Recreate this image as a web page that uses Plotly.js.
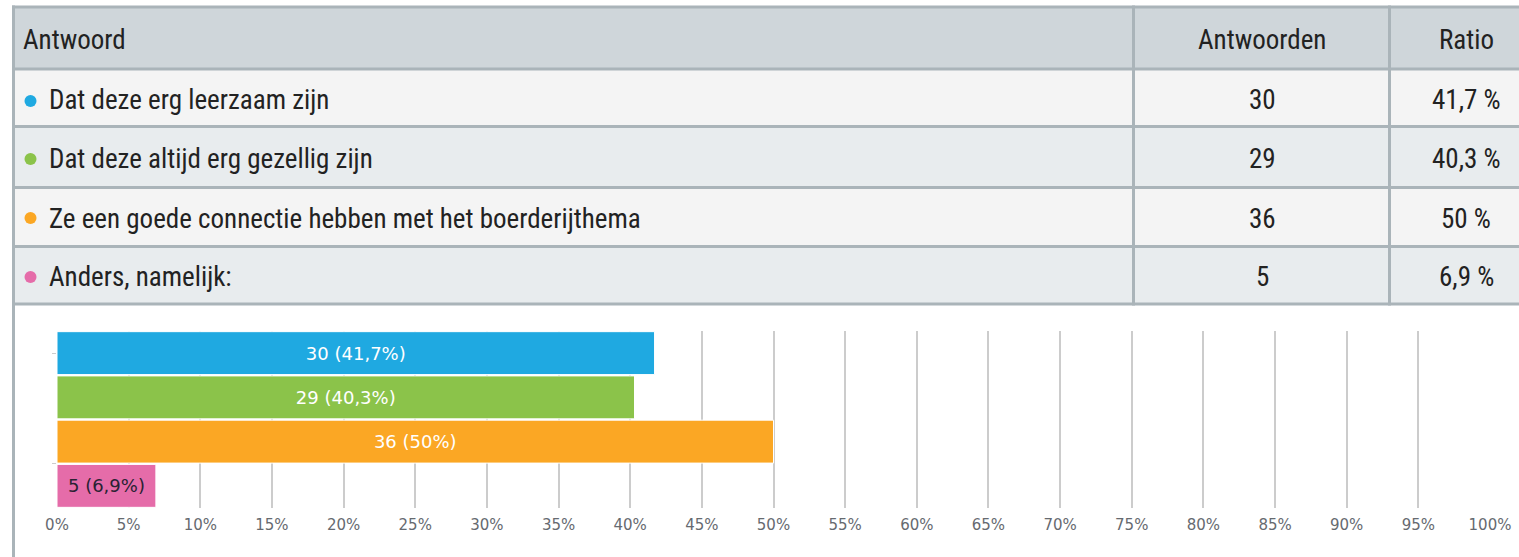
<!DOCTYPE html>
<html><head><meta charset="utf-8">
<script src="https://cdn.plot.ly/plotly-3.0.1.min.js"></script>
<style>html,body{margin:0;padding:0;background:#fff;}#chart{width:1519px;height:557px;}</style>
</head><body><div id="chart"></div>
<script>
// ---- data ----
const headers = ['Antwoord', 'Antwoorden', 'Ratio'];
const answers = [
  'Dat deze erg leerzaam zijn',
  'Dat deze altijd erg gezellig zijn',
  'Ze een goede connectie hebben met het boerderijthema',
  'Anders, namelijk:'
];
const counts = [30, 29, 36, 5];
const ratios = [41.7, 40.3, 50, 6.9];
const colors = ['#1fa9e1', '#8bc34a', '#fba724', '#e56ca9'];
const labelColors = ['#ffffff', '#ffffff', '#ffffff', '#2a2233'];
const tickVals = [0,5,10,15,20,25,30,35,40,45,50,55,60,65,70,75,80,85,90,95,100];
const tickText = tickVals.map(v => v + '%');

// ---- helpers ----
const W = 1519, H = 557;
const X = p => p / W;
const Y = p => 1 - p / H;
const fmt = v => String(v).replace('.', ',');

const border = '#aab4b9';
const headBg = '#cfd6da';
const rowBg = ['#f4f4f4', '#e8ecee', '#f4f4f4', '#e8ecee'];
const rowLines = [7, 69, 126.5, 187.5, 246.5, 304];
const tableFont = 'Liberation Sans Narrow, Roboto Condensed, Arial Narrow, sans-serif';
const tSize = 27;

const shapes = [];
const annotations = [];
// backgrounds
shapes.push({type:'rect', xref:'paper', yref:'paper', x0:X(13), x1:X(W), y0:Y(69), y1:Y(7), fillcolor:headBg, line:{width:0}, layer:'below'});
for (let i = 0; i < answers.length; i++) {
  shapes.push({type:'rect', xref:'paper', yref:'paper', x0:X(13), x1:X(W), y0:Y(rowLines[i+2]), y1:Y(rowLines[i+1]), fillcolor:rowBg[i], line:{width:0}, layer:'below'});
}
// horizontal lines
rowLines.forEach(yy => shapes.push({type:'line', xref:'paper', yref:'paper', x0:X(12), x1:X(W), y0:Y(yy), y1:Y(yy), line:{color:border, width:3}}));
// vertical lines
shapes.push({type:'line', xref:'paper', yref:'paper', x0:X(13.5), x1:X(13.5), y0:Y(5.5), y1:Y(H), line:{color:border, width:3}});
[1133.5, 1389.5].forEach(xx => shapes.push({type:'line', xref:'paper', yref:'paper', x0:X(xx), x1:X(xx), y0:Y(5.5), y1:Y(305.5), line:{color:border, width:3}}));

// header texts
const headerY = 40;
annotations.push({xref:'paper', yref:'paper', x:X(21), y:Y(headerY), xanchor:'left', yanchor:'middle', text:headers[0], showarrow:false, font:{family:tableFont, size:tSize, color:'#222'}});
annotations.push({xref:'paper', yref:'paper', x:X(1262), y:Y(headerY), xanchor:'center', yanchor:'middle', text:headers[1], showarrow:false, font:{family:tableFont, size:tSize, color:'#222'}});
annotations.push({xref:'paper', yref:'paper', x:X(1466), y:Y(headerY), xanchor:'center', yanchor:'middle', text:headers[2], showarrow:false, font:{family:tableFont, size:tSize, color:'#222'}});

const rowCenters = [100, 159, 219, 277];
const bulletCenters = [101, 159, 218, 277];
for (let i = 0; i < answers.length; i++) {
  const cy = rowCenters[i];
  const by = bulletCenters[i];
  shapes.push({type:'circle', xref:'paper', yref:'paper', x0:X(24.5), x1:X(36.5), y0:Y(by+6), y1:Y(by-6), fillcolor:colors[i], line:{width:0}});
  annotations.push({xref:'paper', yref:'paper', x:X(47), y:Y(cy), xanchor:'left', yanchor:'middle', text:answers[i], showarrow:false, font:{family:tableFont, size:tSize, color:'#222'}});
  annotations.push({xref:'paper', yref:'paper', x:X(1262), y:Y(cy), xanchor:'center', yanchor:'middle', text:String(counts[i]), showarrow:false, font:{family:tableFont, size:tSize, color:'#222'}});
  annotations.push({xref:'paper', yref:'paper', x:X(1466), y:Y(cy), xanchor:'center', yanchor:'middle', text:fmt(ratios[i]) + ' %', showarrow:false, font:{family:tableFont, size:tSize, color:'#222'}});
}

const trace = {
  type:'bar', orientation:'h',
  x: ratios, y: answers,
  marker:{color: colors, line:{color:'#ffffff', width:1}},
  text: counts.map((c, i) => c + ' (' + fmt(ratios[i]) + '%)'),
  textposition:'inside', insidetextanchor:'middle', textangle:0,
  textfont:{family:'DejaVu Sans, sans-serif', size:18, color:labelColors},
  hoverinfo:'none', cliponaxis:false
};

const layout = {
  width:W, height:H,
  margin:{l:0, r:0, t:0, b:0},
  paper_bgcolor:'#ffffff', plot_bgcolor:'rgba(0,0,0,0)',
  showlegend:false,
  bargap:0.03,
  xaxis:{domain:[X(57), X(1490)], range:[0,100], tickvals:tickVals, ticktext:tickText,
         showgrid:true, gridcolor:'#cccccc', gridwidth:2, zeroline:false, showline:false,
         ticks:'', ticklabelstandoff:6,
         tickfont:{family:'DejaVu Sans, sans-serif', size:15, color:'#666a70'}, fixedrange:true},
  yaxis:{domain:[Y(508), Y(331)], range:[3.5,-0.5], type:'category', showgrid:false, zeroline:false,
         showline:false, showticklabels:false, ticks:'outside', ticklen:4, tickcolor:'#cccccc',
         tickvals:[0, 2.5], fixedrange:true},
  shapes:shapes, annotations:annotations,
  font:{family:'DejaVu Sans, sans-serif'}
};

Plotly.newPlot('chart', [trace], layout, {displayModeBar:false, staticPlot:true});
</script>
</body></html>
